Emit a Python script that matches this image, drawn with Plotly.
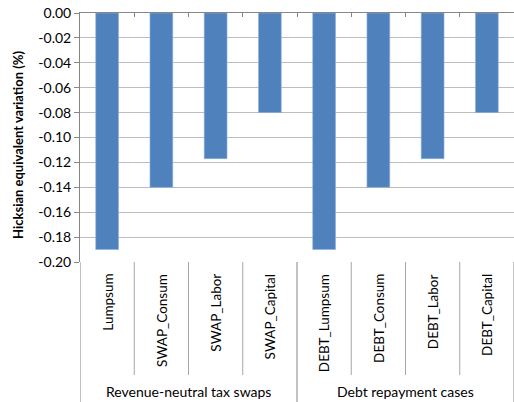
import plotly.graph_objects as go

# Welfare results by scenario
categories = ["Lumpsum", "SWAP_Consum", "SWAP_Labor", "SWAP_Capital",
              "DEBT_Lumpsum", "DEBT_Consum", "DEBT_Labor", "DEBT_Capital"]
values = [-0.190, -0.140, -0.117, -0.080, -0.190, -0.140, -0.117, -0.080]
groups = ["Revenue-neutral tax swaps", "Debt repayment cases"]
group_sizes = [4, 4]
y_ticks = [0.00, -0.02, -0.04, -0.06, -0.08, -0.10, -0.12, -0.14, -0.16, -0.18, -0.20]
y_title = "Hicksian equivalent variation (%)"

W, H = 514, 402
M_L, M_R, M_T, M_B = 80, 0, 13, 140
plot_h = H - M_T - M_B
plot_w = W - M_L - M_R

def py(px_below):
    """Paper y for a pixel distance below the plot area's bottom edge."""
    return -px_below / plot_h

FONT = "Lato, 'Open Sans', sans-serif"
TXT = "#000000"
AXIS = "#868686"
GRID = "#BDBDBD"

fig = go.Figure(go.Bar(
    x=list(range(len(categories))),
    y=values,
    marker=dict(color="#4F81BD", line=dict(color="#8FB0D8", width=0.6)),
    width=0.42,
    hoverinfo="skip",
))

shapes = []
annotations = []

# rotated category labels under the plot
for i, c in enumerate(categories):
    annotations.append(dict(
        x=i, y=py(10), xref="x", yref="paper", text=c, textangle=-90,
        showarrow=False, xanchor="center", yanchor="top",
        font=dict(family=FONT, size=13.5, color=TXT),
    ))

# category separators and group boundaries in the label band
n = len(categories)
for k in range(n + 1):
    x = k - 0.5
    boundary = k in (0, n) or k == group_sizes[0]
    shapes.append(dict(
        type="line", xref="x", yref="paper", x0=x, x1=x,
        y0=0, y1=py(H - M_T - plot_h) if boundary else py(113),
        line=dict(color=AXIS if boundary else "#A6A6A6", width=1),
    ))

# group labels
start = 0
for g, s in zip(groups, group_sizes):
    annotations.append(dict(
        x=start + (s - 1) / 2, y=py(129), xref="x", yref="paper", text=g,
        showarrow=False, xanchor="center", yanchor="middle",
        font=dict(family=FONT, size=14, color=TXT),
    ))
    start += s

# vertical axis title
annotations.append(dict(
    x=-(M_L - 18) / plot_w, y=(plot_h - (145 - M_T)) / plot_h,
    xref="paper", yref="paper", text=f"<b>{y_title}</b>", textangle=-90,
    showarrow=False, xanchor="center", yanchor="middle",
    font=dict(family=FONT, size=13, color=TXT),
))

fig.update_layout(
    width=W, height=H,
    margin=dict(l=M_L, r=M_R, t=M_T, b=M_B),
    paper_bgcolor="white", plot_bgcolor="white",
    showlegend=False,
    shapes=shapes,
    annotations=annotations,
    xaxis=dict(
        range=[-0.5, n - 0.5], side="top", showticklabels=False,
        showline=True, linecolor=AXIS, linewidth=1,
        tickmode="array", tickvals=[k + 0.5 for k in range(n - 1)],
        ticks="inside", ticklen=4, tickcolor=AXIS,
        showgrid=False, zeroline=False, fixedrange=True,
    ),
    yaxis=dict(
        range=[-0.20, 0.0], tickmode="array", tickvals=y_ticks,
        ticktext=[f"{v:.2f}" if v != 0 else "0.00" for v in y_ticks],
        tickfont=dict(family=FONT, size=14, color=TXT),
        showgrid=True, gridcolor=GRID, gridwidth=1,
        showline=True, linecolor=AXIS, linewidth=1,
        ticks="outside", ticklen=5, tickcolor=AXIS,
        zeroline=False, fixedrange=True,
    ),
)

fig.write_html("out.html")
